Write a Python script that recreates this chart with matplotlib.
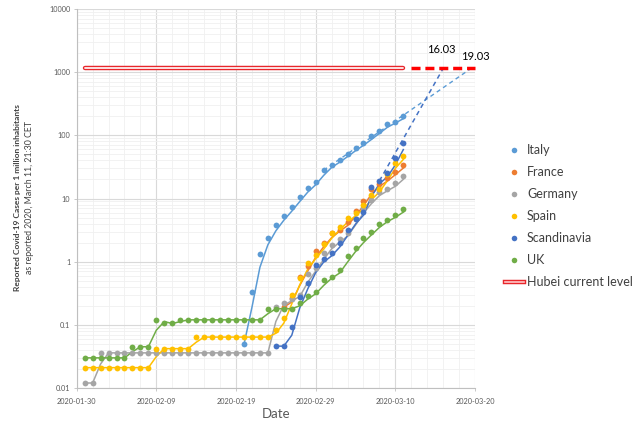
import numpy as np
import pandas as pd
import matplotlib
matplotlib.use('Agg')
import matplotlib.pyplot as plt
import matplotlib.dates as mdates
from matplotlib.lines import Line2D
from matplotlib.ticker import FuncFormatter, LogLocator, NullFormatter

plt.rcParams['font.family'] = ['Lato', 'DejaVu Sans']

# cases per 1 million inhabitants, one value per day from the start date
italy_start = '2020-02-20'
italy = [0.049, 0.33, 1.30, 2.4, 3.75, 5.3, 7.3, 10.6, 14.6, 18.4, 28, 34, 41,
         51, 63, 76, 96, 119, 149, 164, 203]
france_start = '2020-02-25'
france = [0.19, 0.27, 0.57, 0.85, 1.49, 1.94, 2.85, 3.2, 4.25, 6.3, 9.1, 14.2,
          16.8, 21, 26.6, 34]
germany_start = '2020-01-31'
germany = [0.012, 0.012, 0.036, 0.036, 0.036, 0.036, 0.036, 0.036, 0.036, 0.036,
           0.036, 0.036, 0.036, 0.036, 0.036, 0.036, 0.036, 0.036, 0.036, 0.036,
           0.036, 0.036, 0.036, 0.036, 0.19, 0.22, 0.26, 0.30, 0.64, 0.78, 1.38,
           1.81, 2.25, 2.8, 4.8, 7.0, 9.6, 12.6, 13.9, 17.3, 22.9]
spain_start = '2020-01-31'
spain = [0.021, 0.021, 0.021, 0.021, 0.021, 0.021, 0.021, 0.021, 0.021, 0.042,
         0.042, 0.042, 0.042, 0.042, 0.064, 0.064, 0.064, 0.064, 0.064, 0.064,
         0.064, 0.064, 0.064, 0.064, 0.083, 0.13, 0.30, 0.56, 0.96, 1.27, 1.88,
         2.8, 3.57, 4.84, 5.8, 7.9, 11.2, 14.2, 24, 36, 47]
scandinavia_start = '2020-02-24'
scandinavia = [0.046, 0.046, 0.091, 0.28, 0.46, 0.88, 1.09, 1.38, 2.0, 3.16, 4.7,
               6.2, 15.3, 19, 25, 43, 76]
uk_start = '2020-01-31'
uk = [0.03, 0.03, 0.03, 0.03, 0.03, 0.03, 0.045, 0.045, 0.045, 0.12, 0.105, 0.105,
      0.12, 0.12, 0.12, 0.12, 0.12, 0.12, 0.12, 0.12, 0.12, 0.12, 0.12, 0.18, 0.18,
      0.18, 0.18, 0.22, 0.29, 0.33, 0.51, 0.58, 0.74, 1.23, 1.66, 2.34, 2.97, 4.0,
      4.6, 5.46, 6.7]

hubei_level = 1145
hubei_dates = ['2020-01-31', '2020-03-11']
hubei_forecast_dates = ['2020-03-12', '2020-03-20']

# extrapolation to Hubei level
italy_trend_start = '2020-03-01'
italy_reach = '2020-03-19 12:00'
scand_trend_start = '2020-03-08'
scand_reach = '2020-03-16'

series = [
    ('Italy', italy_start, italy, '#5B9BD5'),
    ('France', france_start, france, '#ED7D31'),
    ('Germany', germany_start, germany, '#A5A5A5'),
    ('Spain', spain_start, spain, '#FFC000'),
    ('Scandinavia', scandinavia_start, scandinavia, '#4472C4'),
    ('UK', uk_start, uk, '#70AD47'),
]

fig = plt.figure(figsize=(6.4, 4.33), dpi=100)
ax = fig.add_axes([76.7 / 640, 45 / 433, 398.3 / 640, 379 / 433])

lookup = {}
for name, start, vals, col in series:
    d = pd.date_range(start, periods=len(vals), freq='D')
    v = np.array(vals)
    lookup[name] = pd.Series(v, index=d)
    # 2-period moving average trendline
    ma = np.concatenate([[v[0]], (v[1:] + v[:-1]) / 2])
    ax.plot(d, ma, color=col, lw=1.1, zorder=3)
    ax.plot(d, v, 'o', color=col, ms=4.2, mec='none', zorder=4)

# dashed extrapolations
it0 = pd.Timestamp(italy_trend_start)
ax.plot([it0, pd.Timestamp(italy_reach)], [lookup['Italy'][it0], hubei_level],
        ls=(0, (3, 2.5)), color='#5B9BD5', lw=1.0, zorder=2)
sc0 = pd.Timestamp(scand_trend_start)
ax.plot([sc0, pd.Timestamp(scand_reach)], [lookup['Scandinavia'][sc0], hubei_level],
        ls=(0, (3, 2.5)), color='#4472C4', lw=1.1, zorder=2)

# Hubei level
hd = pd.to_datetime(hubei_dates)
ax.plot(hd, [hubei_level] * 2, color='#E8262B', lw=3.2, solid_capstyle='round', zorder=5)
ax.plot(hd, [hubei_level] * 2, color='#FFF0F0', lw=1.3, solid_capstyle='round', zorder=6)
hf = pd.to_datetime(hubei_forecast_dates)
ax.plot(hf, [hubei_level] * 2, color='#FF0000', lw=2.5, ls=(0, (2.6, 1.4)),
        zorder=5, clip_on=False)

ax.annotate('16.03', xy=(pd.Timestamp(scand_reach), hubei_level), xytext=(-1, 13.5),
            textcoords='offset points', ha='center', va='center', fontsize=8,
            color='#000000', annotation_clip=False)
ax.annotate('19.03', xy=(pd.Timestamp(italy_reach), hubei_level), xytext=(3, 8.5),
            textcoords='offset points', ha='center', va='center', fontsize=8,
            color='#000000', annotation_clip=False)

ax.set_yscale('log')
ax.set_ylim(0.01, 10000)
ax.set_xlim(pd.Timestamp('2020-01-30'), pd.Timestamp('2020-03-20'))
ax.yaxis.set_major_locator(LogLocator(base=10, numticks=10))
ax.yaxis.set_minor_locator(LogLocator(base=10, subs=np.arange(2, 10), numticks=20))
ax.yaxis.set_major_formatter(FuncFormatter(lambda y, p: '{:g}'.format(y)))
ax.yaxis.set_minor_formatter(NullFormatter())
ax.set_xticks(pd.date_range('2020-01-30', '2020-03-20', freq='10D'))
ax.set_xticks(pd.date_range('2020-02-01', '2020-03-19', freq='2D'), minor=True)
ax.xaxis.set_major_formatter(mdates.DateFormatter('%Y-%m-%d'))
ax.xaxis.set_minor_formatter(NullFormatter())

ax.grid(True, which='major', color='#D9D9D9', lw=0.8)
ax.grid(True, which='minor', color='#F0F0F0', lw=0.6)
ax.set_axisbelow(True)
for s in ['top', 'right']:
    ax.spines[s].set_visible(False)
for s in ['left', 'bottom']:
    ax.spines[s].set_color('#BFBFBF')
    ax.spines[s].set_linewidth(0.8)
ax.tick_params(axis='both', which='major', labelsize=5.3, colors='#BFBFBF',
               labelcolor='#595959', length=2.5, width=0.6, pad=2)
ax.tick_params(axis='x', which='major', pad=5, length=2)
ax.tick_params(axis='both', which='minor', length=0)

ax.set_xlabel('Date', fontsize=9.5, color='#595959', labelpad=2)
fig.text(18 / 640, 1 - 198 / 433, 'Reported Covid-19 Cases per 1 million inhabitants',
         rotation=90, ha='center', va='center', fontsize=6, fontweight='bold',
         color='#404040')
fig.text(30 / 640, 1 - 198 / 433, 'as reported 2020, March 11, 21:30 CET',
         rotation=90, ha='center', va='center', fontsize=6.3, color='#404040')

handles = [Line2D([], [], marker='o', ls='none', color=c, ms=4, mec='none')
           for _, _, _, c in series]
handles.append((Line2D([], [], color='#E8262B', lw=3.2),
                Line2D([], [], color='#FFC8C8', lw=1.2)))
labels = [s[0] for s in series] + ['Hubei current level']
fig.legend(handles, labels, loc='upper left', bbox_to_anchor=(505 / 640, 1 - 144 / 433),
           frameon=False, fontsize=9, labelspacing=0.8, handlelength=1.5,
           handletextpad=0.25, borderpad=0, borderaxespad=0, labelcolor='#404040')

fig.savefig('out.png', dpi=100)
